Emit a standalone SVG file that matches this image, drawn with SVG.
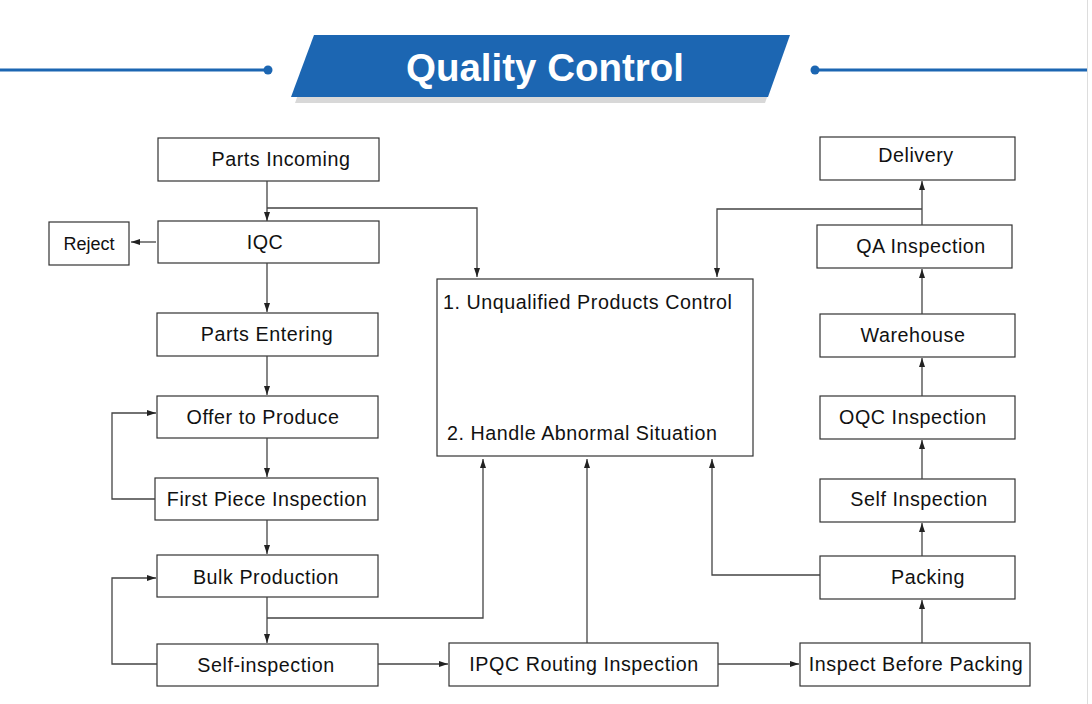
<svg xmlns="http://www.w3.org/2000/svg" width="1092" height="704" viewBox="0 0 1092 704">
<defs>
<marker id="ah" markerWidth="10" markerHeight="8" refX="9" refY="4" orient="auto" markerUnits="userSpaceOnUse">
<path d="M0,1 L9,4 L0,7 Z" fill="#222"/>
</marker>
<style>
.box{fill:#fff;stroke:#333;stroke-width:1.2}
.t{font-family:"Liberation Sans",Arial,sans-serif;font-size:19.7px;fill:#111;letter-spacing:0.55px}
.c{text-anchor:middle}
.ln{fill:none;stroke:#444;stroke-width:1.3}
.ar{fill:none;stroke:#444;stroke-width:1.3;marker-end:url(#ah)}
</style>
</defs>
<rect width="1092" height="704" fill="#fff"/>
<line x1="1087.5" y1="0" x2="1087.5" y2="704" stroke="#ddd" stroke-width="1"/>
<g id="title">
<line x1="0" y1="70" x2="268" y2="70" stroke="#1c66b2" stroke-width="3"/>
<circle cx="268" cy="70" r="4.5" fill="#1c66b2"/>
<line x1="815" y1="70" x2="1087" y2="70" stroke="#1c66b2" stroke-width="3"/>
<circle cx="815" cy="70" r="4.5" fill="#1c66b2"/>
<polygon points="318,40 787,40 765,103 295,103" fill="#d8d8d8"/>
<polygon points="314,35 790,35 768,97 291,97" fill="#1c66b2"/>
<text x="545" y="81" text-anchor="middle" font-family="Liberation Sans,Arial,sans-serif" font-weight="bold" font-size="38.5" fill="#fff">Quality Control</text>
</g>
<g id="n-parts-incoming"><rect class="box" x="158" y="138" width="221" height="43"/><text class="t c" x="281" y="166">Parts Incoming</text></g>
<g id="n-reject"><rect class="box" x="49" y="222" width="80" height="43"/><text class="t c" x="89" y="250" style="font-size:18px;letter-spacing:0">Reject</text></g>
<g id="n-iqc"><rect class="box" x="158" y="221" width="221" height="42"/><text class="t c" x="265" y="249">IQC</text></g>
<g id="n-parts-entering"><rect class="box" x="157" y="313" width="221" height="43"/><text class="t c" x="267" y="341">Parts Entering</text></g>
<g id="n-offer"><rect class="box" x="157" y="396" width="221" height="42"/><text class="t c" x="263" y="424">Offer to Produce</text></g>
<g id="n-first-piece"><rect class="box" x="155" y="478" width="223" height="42"/><text class="t c" x="267" y="506">First Piece Inspection</text></g>
<g id="n-bulk"><rect class="box" x="157" y="555" width="221" height="42"/><text class="t c" x="266" y="584">Bulk Production</text></g>
<g id="n-self-inspection"><rect class="box" x="157" y="644" width="221" height="42"/><text class="t c" x="266" y="672">Self-inspection</text></g>
<g id="n-ipqc"><rect class="box" x="449" y="643" width="269" height="43"/><text class="t c" x="584" y="671">IPQC Routing Inspection</text></g>
<g id="n-inspect-before"><rect class="box" x="800" y="643" width="230" height="43"/><text class="t c" x="916" y="671">Inspect Before Packing</text></g>
<g id="n-packing"><rect class="box" x="820" y="556" width="195" height="43"/><text class="t c" x="928" y="584">Packing</text></g>
<g id="n-self-insp2"><rect class="box" x="820" y="479" width="195" height="43"/><text class="t c" x="919" y="506">Self Inspection</text></g>
<g id="n-oqc"><rect class="box" x="820" y="396" width="195" height="43"/><text class="t c" x="913" y="424">OQC Inspection</text></g>
<g id="n-warehouse"><rect class="box" x="820" y="314" width="195" height="43"/><text class="t c" x="913" y="342">Warehouse</text></g>
<g id="n-qa"><rect class="box" x="817" y="225" width="195" height="43"/><text class="t c" x="921" y="253">QA Inspection</text></g>
<g id="n-delivery"><rect class="box" x="820" y="137" width="195" height="43"/><text class="t c" x="916" y="162">Delivery</text></g>
<g id="n-central"><rect class="box" x="437" y="279" width="316" height="177"/>
<text class="t" x="443" y="309">1. Unqualified Products Control</text>
<text class="t" x="447" y="440">2. Handle Abnormal Situation</text></g>
<g id="connectors">
<path class="ar" d="M267,181 V221"/>
<path class="ar" d="M267,208 H477 V277"/>
<path class="ar" d="M156,242 H131"/>
<path class="ar" d="M267,263 V312"/>
<path class="ar" d="M267,356 V395"/>
<path class="ar" d="M267,438 V477"/>
<path class="ar" d="M155,499 H112 V413 H156"/>
<path class="ar" d="M267,520 V554"/>
<path class="ar" d="M267,597 V643"/>
<path class="ar" d="M267,618 H483 V459"/>
<path class="ar" d="M157,664 H112 V578 H156"/>
<path class="ar" d="M378,664 H448"/>
<path class="ar" d="M587,643 V459"/>
<path class="ar" d="M718,664 H799"/>
<path class="ar" d="M922,643 V600"/>
<path class="ar" d="M820,575 H712 V459"/>
<path class="ar" d="M922,556 V523"/>
<path class="ar" d="M922,479 V440"/>
<path class="ar" d="M922,396 V358"/>
<path class="ar" d="M922,314 V269"/>
<path class="ar" d="M922,225 V181"/>
<path class="ar" d="M922,209 H717 V277"/>
</g>
</svg>
